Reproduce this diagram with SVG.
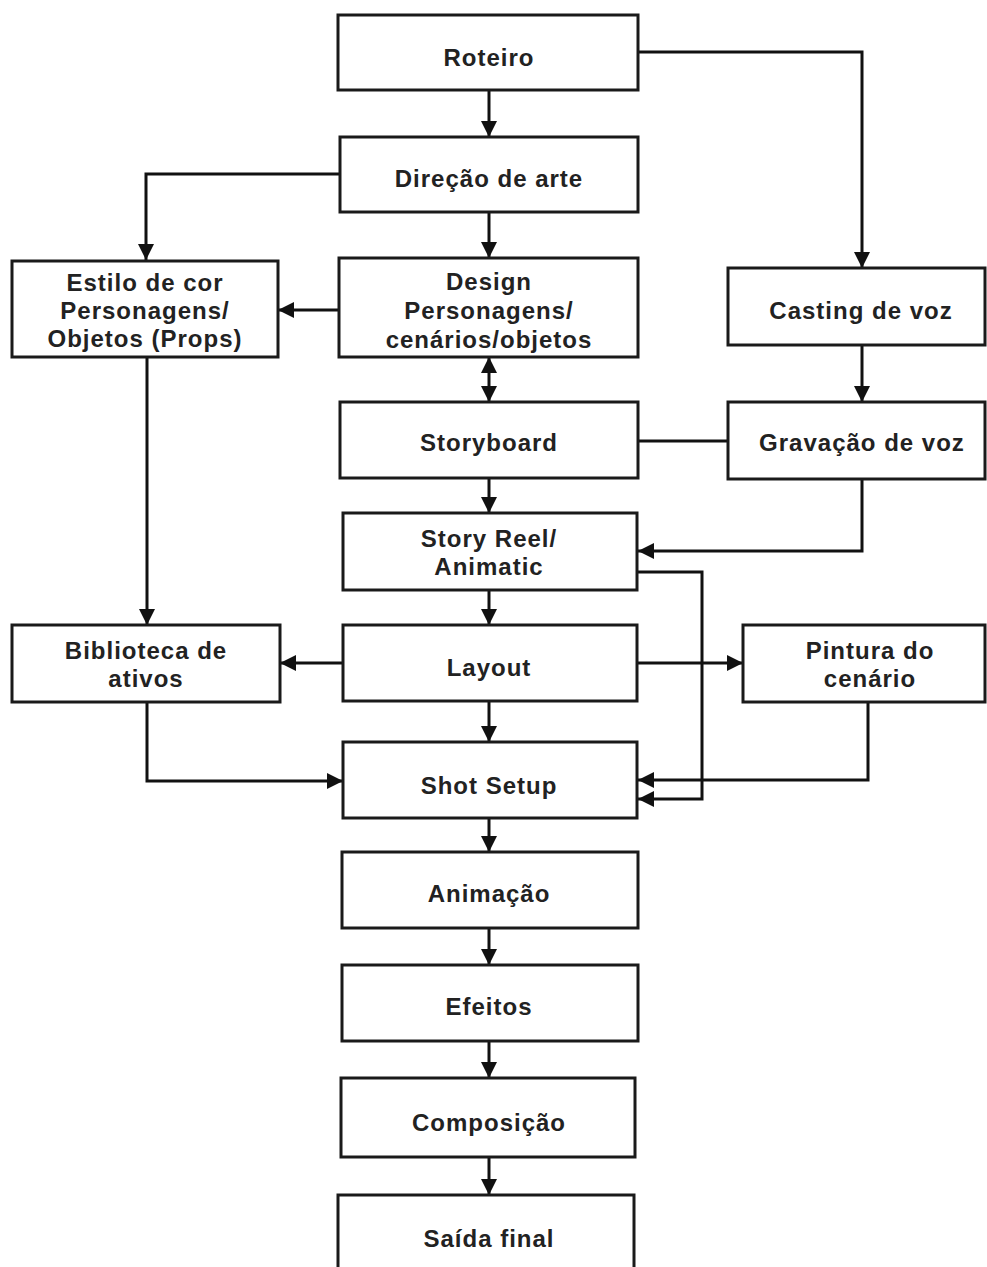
<svg xmlns="http://www.w3.org/2000/svg" width="987" height="1267" viewBox="0 0 987 1267">
<defs>
<style>
.box{fill:#fff;stroke:#1a1a1a;stroke-width:3}
.lbl{font-family:"Liberation Sans",Arial,sans-serif;font-weight:bold;font-size:24px;letter-spacing:1px;fill:#222;text-anchor:middle}
.c{fill:none;stroke:#111;stroke-width:3}
.a{marker-end:url(#ah)}
</style>
<marker id="ah" markerUnits="userSpaceOnUse" markerWidth="16" markerHeight="16" refX="16" refY="8" orient="auto-start-reverse" viewBox="0 0 16 16"><path d="M0,0 L16,8 L0,16 z" fill="#111"/></marker>
</defs>
<rect width="987" height="1267" fill="#fff"/>
<g id="connectors">
<path class="c a" d="M489,90 V137"/>
<path class="c a" d="M638,52 H862 V268"/>
<path class="c a" d="M340,174 H146 V260"/>
<path class="c a" d="M489,212 V258"/>
<path class="c a" d="M339,310 H278"/>
<path class="c a" d="M489,357 V402" style="marker-start:url(#ah)"/>
<path class="c a" d="M862,345 V402"/>
<path class="c" d="M638,441 H728"/>
<path class="c a" d="M489,478 V513"/>
<path class="c a" d="M862,479 V551 H638"/>
<path class="c a" d="M638,572 H702 V799 H638"/>
<path class="c a" d="M489,590 V625"/>
<path class="c a" d="M147,357 V625"/>
<path class="c a" d="M343,663 H280"/>
<path class="c a" d="M637,663 H743"/>
<path class="c a" d="M489,701 V742"/>
<path class="c a" d="M147,702 V781 H343"/>
<path class="c a" d="M868,702 V780 H638"/>
<path class="c a" d="M489,818 V852"/>
<path class="c a" d="M489,928 V965"/>
<path class="c a" d="M489,1041 V1078"/>
<path class="c a" d="M489,1157 V1195"/>
</g>
<g id="roteiro"><rect class="box" x="338" y="15" width="300" height="75"/><text class="lbl" x="489" y="66">Roteiro</text></g>
<g id="direcao"><rect class="box" x="340" y="137" width="298" height="75"/><text class="lbl" x="489" y="187">Direção de arte</text></g>
<g id="estilo"><rect class="box" x="12" y="261" width="266" height="96"/><text class="lbl" x="145" y="291">Estilo de cor</text><text class="lbl" x="145" y="319">Personagens/</text><text class="lbl" x="145" y="347">Objetos (Props)</text></g>
<g id="design"><rect class="box" x="339" y="258" width="299" height="99"/><text class="lbl" x="489" y="290">Design</text><text class="lbl" x="489" y="319">Personagens/</text><text class="lbl" x="489" y="348">cenários/objetos</text></g>
<g id="casting"><rect class="box" x="728" y="268" width="257" height="77"/><text class="lbl" x="861" y="319">Casting de voz</text></g>
<g id="storyboard"><rect class="box" x="340" y="402" width="298" height="76"/><text class="lbl" x="489" y="451">Storyboard</text></g>
<g id="gravacao"><rect class="box" x="728" y="402" width="257" height="77"/><text class="lbl" x="862" y="451">Gravação de voz</text></g>
<g id="storyreel"><rect class="box" x="343" y="513" width="294" height="77"/><text class="lbl" x="489" y="547">Story Reel/</text><text class="lbl" x="489" y="575">Animatic</text></g>
<g id="biblioteca"><rect class="box" x="12" y="625" width="268" height="77"/><text class="lbl" x="146" y="659">Biblioteca de</text><text class="lbl" x="146" y="687">ativos</text></g>
<g id="layout"><rect class="box" x="343" y="625" width="294" height="76"/><text class="lbl" x="489" y="676">Layout</text></g>
<g id="pintura"><rect class="box" x="743" y="625" width="242" height="77"/><text class="lbl" x="870" y="659">Pintura do</text><text class="lbl" x="870" y="687">cenário</text></g>
<g id="shotsetup"><rect class="box" x="343" y="742" width="294" height="76"/><text class="lbl" x="489" y="794">Shot Setup</text></g>
<g id="animacao"><rect class="box" x="342" y="852" width="296" height="76"/><text class="lbl" x="489" y="902">Animação</text></g>
<g id="efeitos"><rect class="box" x="342" y="965" width="296" height="76"/><text class="lbl" x="489" y="1015">Efeitos</text></g>
<g id="composicao"><rect class="box" x="341" y="1078" width="294" height="79"/><text class="lbl" x="489" y="1131">Composição</text></g>
<g id="saida"><rect class="box" x="338" y="1195" width="296" height="100"/><text class="lbl" x="489" y="1247">Saída final</text></g>
</svg>
